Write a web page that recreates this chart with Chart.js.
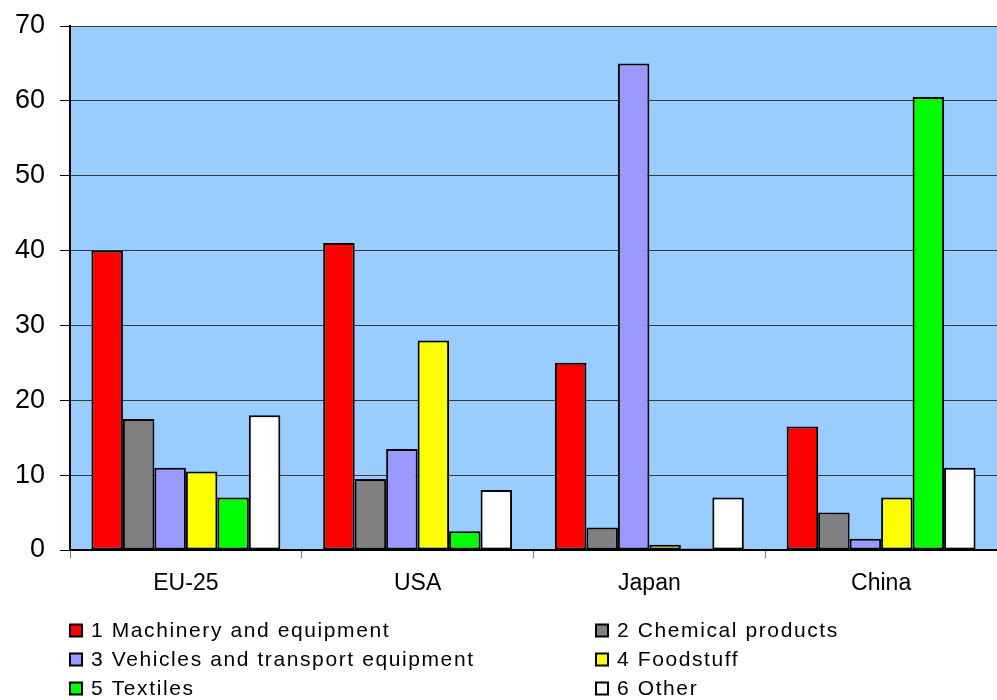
<!DOCTYPE html>
<html>
<head>
<meta charset="utf-8">
<script src="https://cdn.jsdelivr.net/npm/chart.js@4/dist/chart.umd.min.js"></script>
<style>
  body { margin: 0; background: #fff; }
  #wrap { width: 997px; height: 700px; position: relative; }
</style>
</head>
<body>
<div id="wrap"><canvas id="tradeChart" width="997" height="700"></canvas></div>
<script>
// data
const regions = ['EU-25', 'USA', 'Japan', 'China'];
const groupNames = [
  '1 Machinery and equipment',
  '2 Chemical products',
  '3 Vehicles and transport equipment',
  '4 Foodstuff',
  '5 Textiles',
  '6 Other'
];
const machinery = [40, 41, 25, 16.5];
const chemicals = [17.5, 9.5, 3, 5];
const vehicles = [11, 13.5, 65, 1.5];
const foodstuff = [10.5, 28, 0.7, 7];
const textiles = [7, 2.5, 0.2, 60.5];
const other = [18, 8, 7, 11];
const yTicks = [0, 10, 20, 30, 40, 50, 60, 70];

const barColors = ['#ff0000', '#808080', '#9999ff', '#ffff00', '#00ff00', '#ffffff'];
const seriesValues = [machinery, chemicals, vehicles, foodstuff, textiles, other];

const datasets = seriesValues.map((vals, i) => ({
  label: groupNames[i],
  data: vals,
  backgroundColor: barColors[i],
  borderColor: '#000000',
  borderWidth: 2,
  borderSkipped: false,
  barPercentage: 1.0,
  categoryPercentage: 0.815
}));

// light blue plot background
const plotBackground = {
  id: 'plotBackground',
  beforeDraw(chart) {
    const a = chart.chartArea;
    const ctx = chart.ctx;
    ctx.save();
    ctx.fillStyle = '#99ccff';
    ctx.fillRect(a.left, a.top, a.right - a.left, a.bottom - a.top);
    ctx.restore();
  }
};

// two-column legend under the axis
const twoColLegend = {
  id: 'twoColLegend',
  afterDraw(chart) {
    const ctx = chart.ctx;
    ctx.save();
    ctx.font = '21px "Liberation Sans", Arial, sans-serif';
    ctx.letterSpacing = '1.6px';
    ctx.textBaseline = 'middle';
    chart.data.datasets.forEach((ds, i) => {
      const col = i % 2;
      const row = Math.floor(i / 2);
      const x = col === 0 ? 70 : 596;
      const y = 630.5 + row * 29;
      ctx.fillStyle = ds.backgroundColor;
      ctx.fillRect(x, y - 6, 12, 12);
      ctx.strokeStyle = '#000';
      ctx.lineWidth = 2;
      ctx.strokeRect(x, y - 6, 12, 12);
      ctx.fillStyle = '#000';
      ctx.fillText(ds.label, x + 21, y + 1);
    });
    ctx.restore();
  }
};

new Chart(document.getElementById('tradeChart'), {
  type: 'bar',
  data: { labels: regions, datasets: datasets },
  options: {
    responsive: false,
    animation: false,
    layout: { padding: { top: 26, right: 0, bottom: 0, left: 0 } },
    plugins: {
      legend: { display: false },
      tooltip: { enabled: false }
    },
    scales: {
      x: {
        offset: true,
        grid: {
          offset: true,
          drawOnChartArea: false,
          color: '#000',
          tickLength: 8,
          tickColor: '#777'
        },
        border: { color: '#000', width: 2 },
        ticks: {
          color: '#000',
          padding: 12,
          font: { family: '"Liberation Sans", Arial, sans-serif', size: 23 }
        },
        afterFit(scale) { scale.height = 150; }
      },
      y: {
        min: 0,
        max: 70,
        afterBuildTicks(scale) { scale.ticks = yTicks.map(v => ({ value: v })); },
        grid: {
          color: '#3a3a3a',
          lineWidth: 1,
          tickLength: 10,
          tickColor: '#000'
        },
        border: { color: '#000', width: 2 },
        ticks: {
          color: '#000',
          padding: 15,
          font: { family: '"Liberation Sans", Arial, sans-serif', size: 27 }
        },
        afterFit(scale) {
          scale.width = 70;
          scale.paddingTop = 0;
          scale.paddingBottom = 0;
        }
      }
    }
  },
  plugins: [plotBackground, twoColLegend]
});
</script>
</body>
</html>
